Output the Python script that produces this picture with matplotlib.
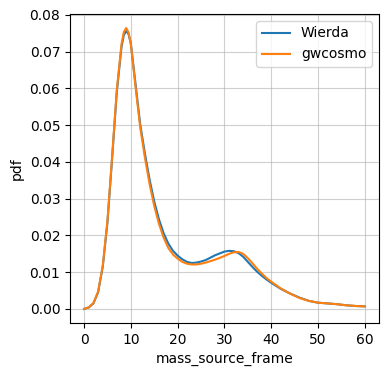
import matplotlib
matplotlib.use("Agg")
import matplotlib.pyplot as plt

mass = [0, 1, 2, 3, 4, 5, 6, 7, 8, 8.5, 9, 9.5, 10, 11, 12, 13, 14, 15, 16, 17, 18, 19, 20,
        21, 22, 23, 24, 25, 26, 28, 30, 31, 32, 33, 34, 35, 36, 37, 38, 39, 40, 42, 44, 46, 48,
        50, 52, 54, 56, 58, 60]

wierda = [0.0000, 0.0004, 0.0015, 0.0045, 0.0115, 0.0235, 0.0410, 0.0590, 0.0712, 0.0745, 0.0756,
          0.0748, 0.0722, 0.0612, 0.0502, 0.0423, 0.0352, 0.0292, 0.0244, 0.0206, 0.0178, 0.0158, 0.0145,
          0.0135, 0.0128, 0.0125, 0.0126, 0.0129, 0.0133, 0.0146, 0.0156, 0.0158, 0.0157, 0.0152, 0.0142,
          0.0128, 0.0114, 0.0101, 0.0090, 0.0080,
          0.0071, 0.0055, 0.0042, 0.0031, 0.0022, 0.0017, 0.0015, 0.0013, 0.0010, 0.0008, 0.0007]

gwcosmo = [0.0000, 0.0004, 0.0016, 0.0047, 0.0118, 0.0240, 0.0415, 0.0596, 0.0720, 0.0753, 0.0764,
           0.0752, 0.0720, 0.0604, 0.0494, 0.0412, 0.0340, 0.0280, 0.0232, 0.0194, 0.0166, 0.0148, 0.0137,
           0.0128, 0.0123, 0.0121, 0.0121, 0.0123, 0.0126, 0.0134, 0.0144, 0.0150, 0.0154, 0.0155, 0.0150,
           0.0138, 0.0124, 0.0109, 0.0096, 0.0084,
           0.0074, 0.0056, 0.0042, 0.0030, 0.0022, 0.0017, 0.0015, 0.0013, 0.0010, 0.0008, 0.0007]

fig = plt.figure(figsize=(3.9, 3.75), dpi=100)
ax = fig.add_axes([0.1795, 0.1387, 0.792, 0.824])
ax.plot(mass, wierda, label="Wierda", color="#1f77b4", linewidth=1.5)
ax.plot(mass, gwcosmo, label="gwcosmo", color="#ff7f0e", linewidth=1.5)
ax.grid(True, alpha=0.6)
ax.set_xlabel("mass_source_frame")
ax.set_ylabel("pdf")
ax.legend(loc="upper right")
fig.savefig("out.png", dpi=100)
